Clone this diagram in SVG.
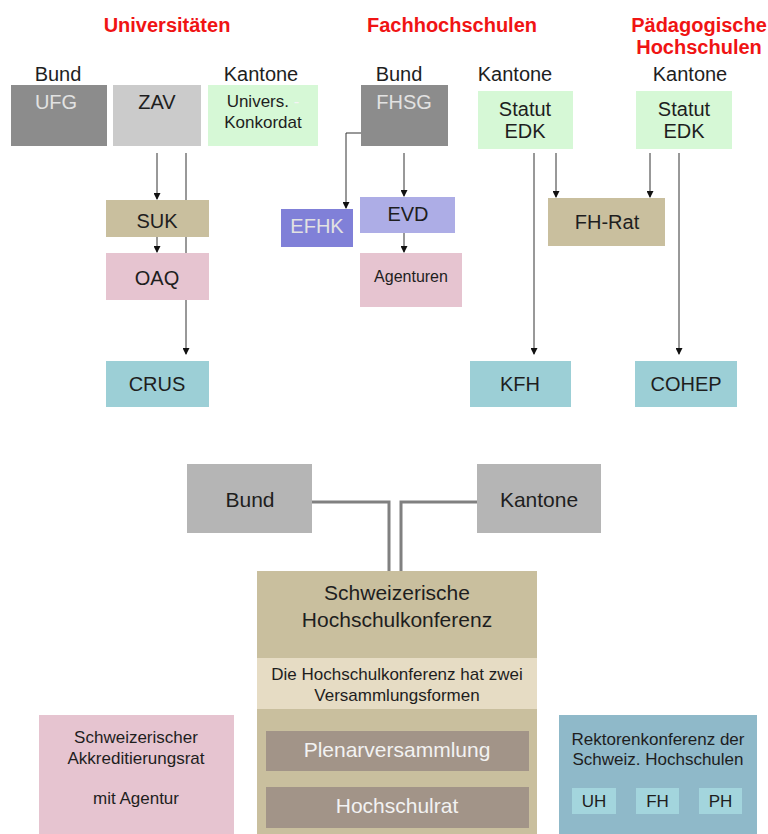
<svg xmlns="http://www.w3.org/2000/svg" width="768" height="834" viewBox="0 0 768 834">
<style>
text{font-family:"Liberation Sans",Arial,sans-serif;text-anchor:middle;fill:#1e1e1e}
.h{font-weight:bold;font-size:20px;fill:#f01414}
.l{font-size:20px}
.t{font-size:20px}
.w{fill:#e2e2e2}
.s{font-size:17px}
.b{font-size:21px}
.c{fill:none;stroke:#333;stroke-width:1}
.g{fill:none;stroke:#808080;stroke-width:3}
</style>
<defs>
<marker id="ah" markerUnits="userSpaceOnUse" markerWidth="7" markerHeight="7" refX="6" refY="3.5" orient="auto">
<path d="M0,0 L7,3.5 L0,7 z" fill="#111"/>
</marker>
</defs>
<g id="headers">
<text class="h" x="167" y="32">Universitäten</text>
<text class="h" x="452" y="32">Fachhochschulen</text>
<text class="h" x="699" y="32">Pädagogische</text>
<text class="h" x="699" y="54">Hochschulen</text>
<text class="l" x="58" y="81">Bund</text>
<text class="l" x="261" y="81">Kantone</text>
<text class="l" x="399" y="81">Bund</text>
<text class="l" x="515" y="81">Kantone</text>
<text class="l" x="690" y="81">Kantone</text>
</g>
<g id="connectors">
<path class="c" d="M157,153 V199" marker-end="url(#ah)"/>
<path class="c" d="M186,153 V354" marker-end="url(#ah)"/>
<path class="c" d="M157,237 V252" marker-end="url(#ah)"/>
<path class="c" d="M361,133 H346 V208" marker-end="url(#ah)"/>
<path class="c" d="M404,153 V196" marker-end="url(#ah)"/>
<path class="c" d="M404,233 V252" marker-end="url(#ah)"/>
<path class="c" d="M534,153 V354" marker-end="url(#ah)"/>
<path class="c" d="M556,153 V197" marker-end="url(#ah)"/>
<path class="c" d="M650,153 V197" marker-end="url(#ah)"/>
<path class="c" d="M679,153 V354" marker-end="url(#ah)"/>
<path class="g" d="M312,502 H389 V572"/>
<path class="g" d="M477,502 H401 V572"/>
</g>
<g id="UFG"><rect x="11" y="85" width="96" height="61" fill="#8c8c8c"/><text class="t w" x="56" y="109">UFG</text></g>
<g id="ZAV"><rect x="113" y="85" width="88" height="61" fill="#cbcbcb"/><text class="t" x="157" y="109">ZAV</text></g>
<g id="Konkordat"><rect x="208" y="85" width="110" height="61" fill="#d6f8d6"/><text class="s" x="263" y="107">Univers.<tspan fill="#f4f4f4"> -</tspan></text><text class="s" x="263" y="128">Konkordat</text></g>
<g id="FHSG"><rect x="361" y="85" width="87" height="61" fill="#8c8c8c"/><text class="t w" x="404" y="109">FHSG</text></g>
<g id="StatutFH"><rect x="478" y="91" width="95" height="58" fill="#d6f8d6"/><text class="t" x="525" y="116">Statut</text><text class="t" x="525" y="138">EDK</text></g>
<g id="StatutPH"><rect x="636" y="91" width="96" height="58" fill="#d6f8d6"/><text class="t" x="684" y="116">Statut</text><text class="t" x="684" y="138">EDK</text></g>
<g id="SUK"><rect x="106" y="200" width="103" height="37" fill="#c9bf9e"/><text class="t" x="157" y="228">SUK</text></g>
<g id="OAQ"><rect x="106" y="253" width="103" height="47" fill="#e6c4d0"/><text class="t" x="157" y="285">OAQ</text></g>
<g id="CRUS"><rect x="106" y="361" width="103" height="46" fill="#9ccfd6"/><text class="t" x="157" y="391">CRUS</text></g>
<g id="EFHK"><rect x="281" y="209" width="72" height="38" fill="#8080d8"/><text class="t w" x="317" y="233">EFHK</text></g>
<g id="EVD"><rect x="360" y="197" width="95" height="36" fill="#adade6"/><text class="t" x="408" y="221">EVD</text></g>
<g id="Agenturen"><rect x="360" y="253" width="102" height="54" fill="#e6c4d0"/><text x="411" y="282" font-size="16">Agenturen</text></g>
<g id="FHRat"><rect x="548" y="198" width="117" height="48" fill="#c9bf9e"/><text class="t" x="607" y="229">FH-Rat</text></g>
<g id="KFH"><rect x="470" y="361" width="101" height="46" fill="#9ccfd6"/><text class="t" x="520" y="391">KFH</text></g>
<g id="COHEP"><rect x="635" y="361" width="102" height="46" fill="#9ccfd6"/><text class="t" x="686" y="391">COHEP</text></g>
<g id="BundB"><rect x="187" y="464" width="125" height="69" fill="#b5b5b5"/><text class="b" x="250" y="507">Bund</text></g>
<g id="KantoneB"><rect x="477" y="464" width="124" height="69" fill="#b5b5b5"/><text class="b" x="539" y="507">Kantone</text></g>
<g id="SHK">
<rect x="257" y="571" width="280" height="270" fill="#c9bf9e"/>
<text class="b" x="397" y="600">Schweizerische</text>
<text class="b" x="397" y="627">Hochschulkonferenz</text>
<rect x="257" y="658" width="280" height="51" fill="#e6dcc4"/>
<text class="s" x="397" y="680">Die Hochschulkonferenz hat zwei</text>
<text class="s" x="397" y="701">Versammlungsformen</text>
</g>
<g id="Plenar"><rect x="266" y="731" width="263" height="40" fill="#a29488"/><text class="b" x="397" y="757" fill="#f2f2f2" style="fill:#f2f2f2">Plenarversammlung</text></g>
<g id="Hochschulrat"><rect x="266" y="787" width="263" height="41" fill="#a29488"/><text class="b" x="397" y="813" style="fill:#f2f2f2">Hochschulrat</text></g>
<g id="SAR"><rect x="39" y="715" width="195" height="125" fill="#e6c4d0"/>
<text class="s" x="136" y="743">Schweizerischer</text>
<text class="s" x="136" y="764">Akkreditierungsrat</text>
<text class="s" x="136" y="804">mit Agentur</text></g>
<g id="Rektoren"><rect x="559" y="715" width="198" height="125" fill="#8fb9c9"/>
<text class="s" x="658" y="745">Rektorenkonferenz der</text>
<text class="s" x="658" y="765">Schweiz. Hochschulen</text></g>
<g id="UH"><rect x="572" y="788" width="44" height="26" fill="#a3d5dd"/><text class="s" x="594" y="807">UH</text></g>
<g id="FH"><rect x="636" y="788" width="43" height="26" fill="#a3d5dd"/><text class="s" x="657.5" y="807">FH</text></g>
<g id="PH"><rect x="699" y="788" width="43" height="26" fill="#a3d5dd"/><text class="s" x="720.5" y="807">PH</text></g>
</svg>
